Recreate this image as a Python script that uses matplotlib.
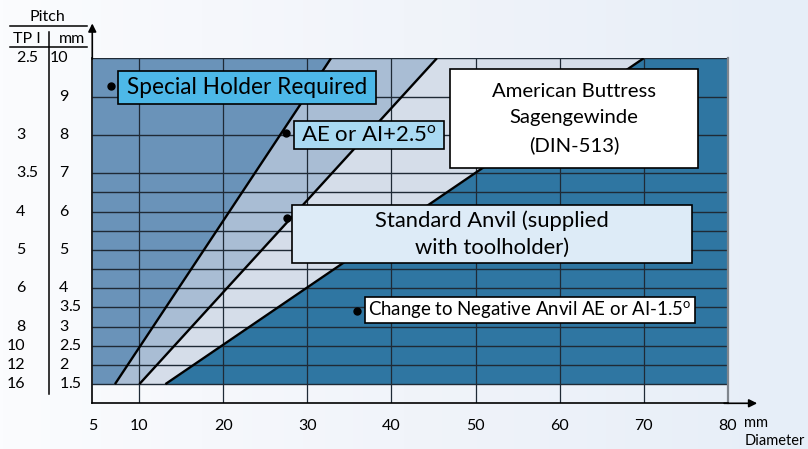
import numpy as np
import matplotlib.pyplot as plt
from matplotlib.patches import Rectangle
from matplotlib.colors import LinearSegmentedColormap

plt.rcParams['font.family'] = ['Lato', 'DejaVu Sans']
plt.rcParams['mathtext.fontset'] = 'custom'
plt.rcParams['mathtext.rm'] = 'Lato'

# pitch range covered by the zones (mm)
pitch_ends = [1.5, 10.0]
# diameter (mm) of each zone boundary at pitch 1.5 and at pitch 10
special_limit = [7.1, 32.8]
plus25_limit = [10.0, 45.4]
negative_limit = [13.1, 70.0]

# left axis: pitch in mm and the matching threads per inch
pitch_mm = [10, 9, 8, 7, 6, 5, 4, 3.5, 3, 2.5, 2, 1.5]
pitch_mm_labels = ['10', '9', '8', '7', '6', '5', '4', '3.5', '3', '2.5', '2', '1.5']
pitch_tpi_labels = ['2.5', '', '3', '3.5', '4', '5', '6', '', '8', '10', '12', '16']
pitch_grid = [1.5, 2, 2.5, 3, 3.5, 4, 4.5, 5, 5.5, 6, 6.5, 7, 8, 9, 10]

# bottom axis: diameter (mm)
diameter_ticks = [10, 20, 30, 40, 50, 60, 70, 80]
diameter_labels = ['10', '20', '30', '40', '50', '60', '70', '80']
diameter_first_label = '5'

x_lo, x_hi = 4.4, 80.0
y_lo, y_hi = 1.0, 10.0

zone_colors = ['#6a93b9', '#a9bdd4', '#d5dde9', '#2f76a2']
grid_color = '#1f2a36'

fig = plt.figure(figsize=(8.08, 4.49), dpi=100)

# soft background gradient
bg = fig.add_axes([0, 0, 1, 1])
bg.axis('off')
bg_cmap = LinearSegmentedColormap.from_list('bg', ['#fbfcfe', '#f1f4fa', '#e6eef8'])
bg.imshow(np.linspace(0, 1, 256)[None, :], aspect='auto', cmap=bg_cmap,
          extent=[0, 1, 0, 1])

ax = fig.add_axes([0.1142, 0.1018, 0.7864, 0.7684])
ax.patch.set_alpha(0)
ax.set_xlim(x_lo, x_hi)
ax.set_ylim(y_lo, y_hi)

# zones
ax.fill_betweenx(pitch_ends, [x_lo, x_lo], special_limit, color=zone_colors[0], lw=0, zorder=1)
ax.fill_betweenx(pitch_ends, special_limit, plus25_limit, color=zone_colors[1], lw=0, zorder=1)
ax.fill_betweenx(pitch_ends, plus25_limit, negative_limit, color=zone_colors[2], lw=0, zorder=1)
ax.fill_betweenx(pitch_ends, negative_limit, [x_hi, x_hi], color=zone_colors[3], lw=0, zorder=1)

# grid
ax.hlines(pitch_grid, x_lo, x_hi, colors=grid_color, lw=1.0, zorder=2)
ax.vlines(diameter_ticks[:-1], y_lo, y_hi, colors=grid_color, lw=0.9, zorder=2)

# zone boundaries
for lim in (special_limit, plus25_limit, negative_limit):
    ax.plot(lim, pitch_ends, color='black', lw=1.7, zorder=3, solid_capstyle='butt')

# frame and arrows
ax.spines['top'].set_visible(False)
ax.spines['right'].set_color('#80868e')
ax.spines['right'].set_linewidth(1.6)
ax.spines['left'].set_linewidth(1.2)
ax.spines['bottom'].set_linewidth(1.2)
ax.annotate('', xy=(0, 1.109), xytext=(0, 0.99), xycoords='axes fraction',
            arrowprops=dict(arrowstyle='-|>', color='black', lw=1.2, mutation_scale=12))
ax.annotate('', xy=(1.0508, 0), xytext=(0.99, 0), xycoords='axes fraction',
            arrowprops=dict(arrowstyle='-|>', color='black', lw=1.2, mutation_scale=12))

# x tick labels
ax.set_xticks([x_lo] + diameter_ticks)
ax.set_xticklabels([diameter_first_label] + diameter_labels, fontsize=11.5)
ax.tick_params(axis='x', length=0, pad=11)
ax.set_yticks([])
ax.text(1.026, -0.057, 'mm', transform=ax.transAxes, fontsize=10.5, ha='left', va='center')
ax.text(1.026, -0.109, 'Diameter', transform=ax.transAxes, fontsize=10.5, ha='left', va='center')

# y labels, aligned on the decimal point
ytr = ax.get_yaxis_transform()
for p, mm_lab, tpi_lab in zip(pitch_mm, pitch_mm_labels, pitch_tpi_labels):
    for lab, xa in ((mm_lab, -0.0375), (tpi_lab, -0.1051)):
        if not lab:
            continue
        whole, _, frac = lab.partition('.')
        ax.text(xa, p, whole, transform=ytr, ha='right', va='center', fontsize=11.5)
        if frac:
            ax.text(xa, p, '.' + frac, transform=ytr, ha='left', va='center', fontsize=11.5)

# pitch header
fig.text(47.7 / 808, 1 - 16.7 / 449, 'Pitch', ha='center', va='center', fontsize=11.5)
fig.text(26.7 / 808, 1 - 39.3 / 449, 'TP I', ha='center', va='center', fontsize=11.5)
fig.text(72.3 / 808, 1 - 39.3 / 449, 'mm', ha='center', va='center', fontsize=11.5)
fig.add_artist(plt.Line2D([10 / 808, 87.3 / 808], [1 - 26 / 449] * 2, color='black', lw=1.1))
fig.add_artist(plt.Line2D([10 / 808, 87.3 / 808], [1 - 46.7 / 449] * 2, color='black', lw=1.1))
fig.add_artist(plt.Line2D([49 / 808] * 2, [1 - 31.7 / 449, 1 - 394 / 449], color='black', lw=1.1))


def note(x0, x1, y0, y1, fc, text, size, dot=None, spacing=1.2):
    ax.add_patch(Rectangle((x0, y0), x1 - x0, y1 - y0, fc=fc, ec='black', lw=1.2,
                           zorder=5, clip_on=False))
    ax.text((x0 + x1) / 2, (y0 + y1) / 2, text, ha='center', va='center', fontsize=size,
            linespacing=spacing, zorder=6)
    if dot is not None:
        ax.plot(*dot, 'o', color='black', ms=5, zorder=6)


note(7.47, 38.15, 8.804, 9.665, '#4db8e8', 'Special Holder Required', 16.3, dot=(6.63, 9.27))
note(28.40, 46.24, 7.631, 8.361, '#a9d9f2', r'AE or AI+2.5$^{\mathrm{o}}$', 16, dot=(27.45, 8.05))
note(46.96, 76.46, 7.136, 9.717, 'white', 'American Buttress\nSagengewinde\n(DIN-513)', 14.6,
     spacing=1.65)
note(28.17, 75.75, 4.659, 6.171, '#ddebf7', 'Standard Anvil (supplied\nwith toolholder)', 15.8,
     dot=(27.57, 5.83), spacing=1.45)
note(36.85, 76.11, 3.094, 3.772, 'white', r'Change to Negative Anvil AE or AI-1.5$^{\mathrm{o}}$', 13.4,
     dot=(35.9, 3.41))

fig.savefig('out.png', dpi=100)
